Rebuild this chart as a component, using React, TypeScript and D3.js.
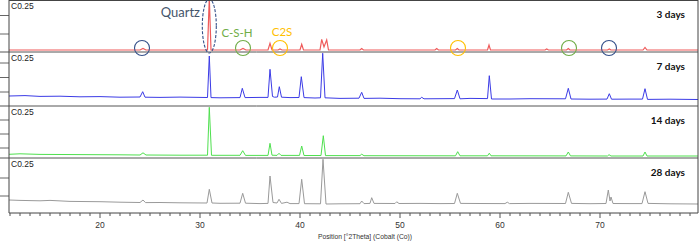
import React from "react";
import * as d3 from "d3";

// ---------- data ----------
const X_DOMAIN: [number, number] = [10.9, 79.8];
const X_TICK_LABELS = [20, 30, 40, 50, 60, 70];

const SERIES_NAMES = ["3 days", "7 days", "14 days", "28 days"];
const SAMPLE_LABEL = "C0.25";

// [2theta, intensity]
const DAY3: [number, number][] = [
  [10.9, 2], [24.0, 2], [24.3, 3.5], [24.6, 2], [30.75, 2], [30.93, 54], [31.1, 2],
  [34.0, 2], [34.3, 3.5], [34.6, 2], [36.8, 2], [37.0, 8.7], [37.2, 2], [37.8, 2],
  [38.0, 3], [38.2, 2], [40.0, 2], [40.17, 7.7], [40.35, 2], [42.0, 2], [42.17, 12.7],
  [42.4, 5], [42.67, 12], [42.85, 2], [46.0, 2], [46.17, 3.5], [46.35, 2], [53.5, 2],
  [53.67, 3.5], [53.85, 2], [55.55, 2], [55.73, 3.5], [55.9, 2], [58.75, 2], [58.9, 7],
  [59.05, 2], [64.5, 2], [64.67, 3], [64.85, 2], [66.65, 2], [66.83, 3.5], [67.0, 2],
  [70.75, 2], [70.93, 3], [71.1, 2], [74.3, 2], [74.5, 4.5], [74.7, 2], [79.8, 2],
];

const DAY7: [number, number][] = [
  [10.9, 10], [12.5, 10.4], [14, 9.6], [16, 9.8], [18, 9.2], [20, 9.4], [22, 8.8],
  [24.0, 9], [24.27, 14.3], [24.5, 8.8], [26, 8.6], [28, 8.9], [30.75, 8.5], [30.93, 50],
  [31.1, 8.4], [32, 8.2], [34.0, 8.4], [34.23, 17.7], [34.5, 8.4], [36, 8.6], [36.8, 8.6],
  [37.0, 36.7], [37.25, 9.5], [37.45, 8.8], [37.75, 9], [37.93, 19.3], [38.15, 8.8],
  [39, 8.4], [39.9, 8.5], [40.13, 29.3], [40.4, 8.4], [41.5, 8], [42.05, 8.2],
  [42.27, 52.7], [42.5, 8.2], [44, 7.6], [45.9, 7.8], [46.17, 13.7], [46.4, 7.6],
  [48, 7.8], [50, 7.3], [52, 7.2], [52.17, 8.7], [52.4, 7.2], [55.45, 7.4], [55.73, 16],
  [56, 7.2], [57, 7.6], [58.75, 7.4], [58.93, 30.3], [59.15, 7.0], [61, 7], [63, 7.3],
  [66.55, 7.2], [66.83, 17.7], [67.1, 7], [69, 6.8], [70.7, 6.9], [70.93, 12.3],
  [71.15, 6.8], [73, 6.9], [74.25, 6.9], [74.5, 17.3], [74.75, 6.6], [77, 6.8], [79.8, 6.5],
];

const DAY14: [number, number][] = [
  [10.9, 3.7], [12, 4.2], [14, 3.6], [18, 3.4], [22, 3.2], [24.0, 3.0], [24.3, 5.2],
  [24.6, 3], [28, 2.8], [30.75, 2.8], [30.93, 50.7], [31.15, 2.7], [34.0, 2.7],
  [34.27, 7.3], [34.55, 2.6], [36.8, 2.6], [37.0, 14.7], [37.2, 2.8], [37.7, 2.6],
  [37.9, 4.7], [38.1, 2.6], [39.95, 2.6], [40.17, 12], [40.4, 2.5], [42.1, 2.5],
  [42.33, 22.3], [42.55, 2.4], [46, 2.4], [46.17, 3.8], [46.4, 2.3], [55.55, 2.2],
  [55.77, 6.3], [56, 2.2], [58.75, 2.2], [58.93, 4.8], [59.1, 2.2], [66.6, 2.1],
  [66.83, 6], [67.05, 2.1], [70.75, 2], [70.9, 3.3], [71.1, 2], [74.3, 2], [74.5, 6],
  [74.7, 2], [79.8, 2],
];

const DAY28: [number, number][] = [
  [10.9, 13], [12, 12.6], [14, 12.2], [15, 12.6], [17, 11.6], [20, 11.3], [22, 10.8],
  [24.0, 10.5], [24.3, 13], [24.55, 10.4], [26, 10.5], [28, 10.2], [30.7, 10],
  [30.93, 23.7], [31.2, 10], [32, 9.7], [34.0, 9.8], [34.27, 19.7], [34.55, 9.8],
  [36, 9.4], [36.8, 9.6], [37.0, 37], [37.3, 10.5], [37.7, 10], [37.9, 13.7],
  [38.15, 9.6], [38.7, 10.8], [39.0, 9.4], [39.9, 9.4], [40.17, 33.7], [40.45, 9.3],
  [42.05, 9.2], [42.3, 53.7], [42.6, 9], [44, 9.2], [46, 9.3], [46.17, 12], [46.4, 9.4],
  [47.0, 9.6], [47.17, 15.3], [47.4, 9.6], [49.5, 9.5], [49.67, 11.2], [49.9, 9.5],
  [52, 9.6], [54, 9.4], [55.45, 9.5], [55.73, 19.7], [56.05, 9.6], [58, 9.5],
  [60.5, 9.4], [60.73, 10.8], [60.95, 9.4], [63, 9.6], [66.55, 9.5], [66.83, 20.7],
  [67.15, 9.6], [69, 9.3], [70.6, 9.5], [70.83, 23], [71.0, 12], [71.1, 16], [71.3, 9.5],
  [73, 9.4], [74.2, 9.4], [74.5, 21.3], [74.8, 9.6], [77, 9.2], [79.8, 9],
];

const SERIES = [DAY3, DAY7, DAY14, DAY28];
const Y_TICKS = [[18, 36.5], [14, 28.5, 43], [10, 24, 38], [17, 35]];

// annotations on the 3-day pattern (2theta)
const QUARTZ_POS = 30.93;
const CIRCLE_QUARTZ = [24.2, 70.9];
const CIRCLE_CSH = [34.3, 66.9];
const CIRCLE_C2S = [38.0, 55.8];

// ---------- layout ----------
const W = 700;
const H = 241;
const LEFT = 9;
const RIGHT = 698;
const PANEL_TOPS = [0, 52, 106, 158];
const PANEL_BOTTOMS = [52, 106, 158, 213];
const COLORS = ["#ef5a5a", "#3b3be6", "#4fe04f", "#9a9a9a"];
const NAVY = "#44546A";
const BLUE_MARK = "#34508a";
const GREEN = "#70AD47";
const GOLD = "#FFC000";

export default function App() {
  const x = d3.scaleLinear().domain(X_DOMAIN).range([LEFT, RIGHT]);
  const minorTicks = d3.range(11, 80, 1);

  return (
    <svg
      width={W}
      height={H}
      style={{ position: "fixed", left: 0, top: 0, background: "#fff" }}
      fontFamily="'Liberation Sans', Arial, sans-serif"
    >
      <defs>
        {PANEL_TOPS.map((t, i) => (
          <clipPath id={`clip${i}`} key={i}>
            <rect x={LEFT} y={t} width={RIGHT - LEFT} height={PANEL_BOTTOMS[i] - t} />
          </clipPath>
        ))}
      </defs>
      <rect x={0} y={0} width={W} height={H} fill="#fff" />

      {SERIES.map((data, i) => {
        const top = PANEL_TOPS[i];
        const bottom = PANEL_BOTTOMS[i];
        const y = d3.scaleLinear().domain([0, bottom - top]).range([bottom, top]);
        const line = d3
          .line<[number, number]>()
          .x((d) => x(d[0]))
          .y((d) => y(d[1]));
        return (
          <g key={i}>
            {Y_TICKS[i].map((v) => (
              <line key={v} x1={0} x2={LEFT} y1={y(v)} y2={y(v)} stroke="#666" strokeWidth={1} />
            ))}
            <path
              d={line(data) || ""}
              fill="none"
              stroke={COLORS[i]}
              strokeWidth={i === 0 ? 1.2 : 1}
              clipPath={`url(#clip${i})`}
            />
            <text x={11} y={top + 8.5} fontSize={8.5} fill="#222">
              {SAMPLE_LABEL}
            </text>
            <text
              x={685}
              y={top + 18}
              fontSize={10}
              fontWeight="bold"
              textAnchor="end"
              fill="#111"
              fontFamily="Lato, 'Open Sans', sans-serif"
            >
              {SERIES_NAMES[i]}
            </text>
          </g>
        );
      })}

      {/* panel separators and frame */}
      {PANEL_TOPS.slice(1).map((t) => (
        <line key={t} x1={0} x2={RIGHT} y1={t} y2={t} stroke="#555" strokeWidth={1} />
      ))}
      <line x1={LEFT} x2={RIGHT} y1={0.5} y2={0.5} stroke="#444" strokeWidth={1} />
      <line x1={LEFT} x2={LEFT} y1={0} y2={213} stroke="#444" strokeWidth={1} />
      <line x1={RIGHT} x2={RIGHT} y1={0} y2={213} stroke="#444" strokeWidth={1} />
      <line x1={LEFT} x2={RIGHT} y1={213} y2={213} stroke="#444" strokeWidth={1} />

      {/* x axis ticks */}
      {minorTicks.map((t) => (
        <line
          key={t}
          x1={x(t)}
          x2={x(t)}
          y1={213}
          y2={t % 10 === 0 ? 218 : 216}
          stroke="#555"
          strokeWidth={1}
        />
      ))}
      {X_TICK_LABELS.map((t) => (
        <text key={t} x={x(t)} y={228} fontSize={8.5} textAnchor="middle" fill="#333">
          {t}
        </text>
      ))}
      <text x={318} y={239} fontSize={8} fill="#333" textLength={94} lengthAdjust="spacingAndGlyphs">
        Position [°2Theta] (Cobalt (Co))
      </text>

      {/* annotations */}
      <ellipse
        cx={x(QUARTZ_POS)}
        cy={26}
        rx={7}
        ry={27}
        fill="none"
        stroke={BLUE_MARK}
        strokeWidth={1.1}
        strokeDasharray="3,1.5"
      />
      <text x={200} y={17} fontSize={13} textAnchor="end" fill={NAVY} fontFamily="Lato, 'Open Sans', sans-serif">
        Quartz
      </text>
      <text x={237} y={37} fontSize={11.5} textAnchor="middle" fill={GREEN} fontFamily="Lato, 'Open Sans', sans-serif">
        C-S-H
      </text>
      <text x={282} y={36} fontSize={11.5} textAnchor="middle" fill={GOLD} fontFamily="Lato, 'Open Sans', sans-serif">
        C2S
      </text>
      {CIRCLE_QUARTZ.map((p) => (
        <circle key={`q${p}`} cx={x(p)} cy={48} r={7.5} fill="none" stroke={BLUE_MARK} strokeWidth={1.1} />
      ))}
      {CIRCLE_CSH.map((p) => (
        <circle key={`c${p}`} cx={x(p)} cy={48} r={7.5} fill="none" stroke={GREEN} strokeWidth={1.1} />
      ))}
      {CIRCLE_C2S.map((p) => (
        <circle key={`s${p}`} cx={x(p)} cy={48} r={7.5} fill="none" stroke={GOLD} strokeWidth={1.1} />
      ))}
    </svg>
  );
}
